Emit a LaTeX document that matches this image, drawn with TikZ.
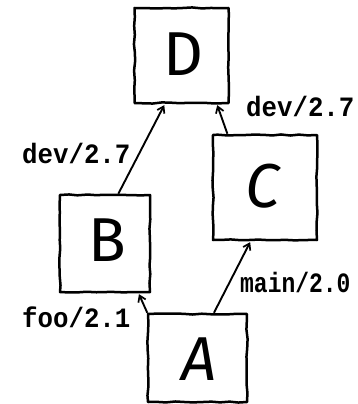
\documentclass[tikz,border=0pt]{standalone}
\usepackage{fontspec}
\setsansfont{Fira Sans}
\newfontfamily\labelfont[FakeStretch=0.92]{Liberation Mono}
\newfontfamily\narrowlabelfont[FakeStretch=0.82]{Liberation Mono}
\usetikzlibrary{arrows.meta,decorations.pathmorphing}
\begin{document}
\begin{tikzpicture}[x=1pt,y=-1pt,
  sketch/.style={decorate,decoration={random steps,segment length=9pt,amplitude=0.6pt}},
  commit/.style={draw,line width=2.5pt,line join=round,sketch,inner sep=0pt},
  letter/.style={inner sep=0pt,font=\sffamily\fontsize{62}{62}\selectfont},
  link/.style={line width=1.9pt,-{Straight Barb[length=6pt,width=8pt,line width=1.7pt]},shorten >=1pt},
  tag/.style={inner sep=0pt,anchor=base west,font=\labelfont\bfseries\fontsize{28}{28}\selectfont}]
  \useasboundingbox (0,0) rectangle (358,404);
  % commit boxes
  \node[commit,minimum width=94pt,minimum height=95pt] (D) at (181.5,55.5) {};
  \node[commit,minimum width=104pt,minimum height=105pt] (C) at (265,187.5) {};
  \node[commit,minimum width=90pt,minimum height=97pt] (B) at (105,243.5) {};
  \node[commit,minimum width=99pt,minimum height=88pt] (A) at (197.5,358) {};
  % commit letters
  \node[letter] (Dl) at (183.5,54) {D};
  \node[letter,font=\sffamily\itshape\fontsize{62}{62}\selectfont] (Cl) at (263,186) {C};
  \node[letter] (Bl) at (107,240) {B};
  \node[letter,font=\sffamily\itshape\fontsize{62}{62}\selectfont] (Al) at (199,359) {A};
  % parent links
  \draw[link] (B.75) -- (D.-109);
  \draw[link] (C.125) -- (D.-54);
  \draw[link] (A.138) -- (B.-56);
  \draw[link] (A.70) -- (C.-105);
  % version tags
  \node[tag] (t1) at (22,163) {dev/2.7};
  \node[tag] (t2) at (246,116) {dev/2.7};
  \node[tag,font=\narrowlabelfont\bfseries\fontsize{28}{28}\selectfont] (t3) at (240,292) {main/2.0};
  \node[tag] (t4) at (22,327) {foo/2.1};
\end{tikzpicture}
\end{document}
